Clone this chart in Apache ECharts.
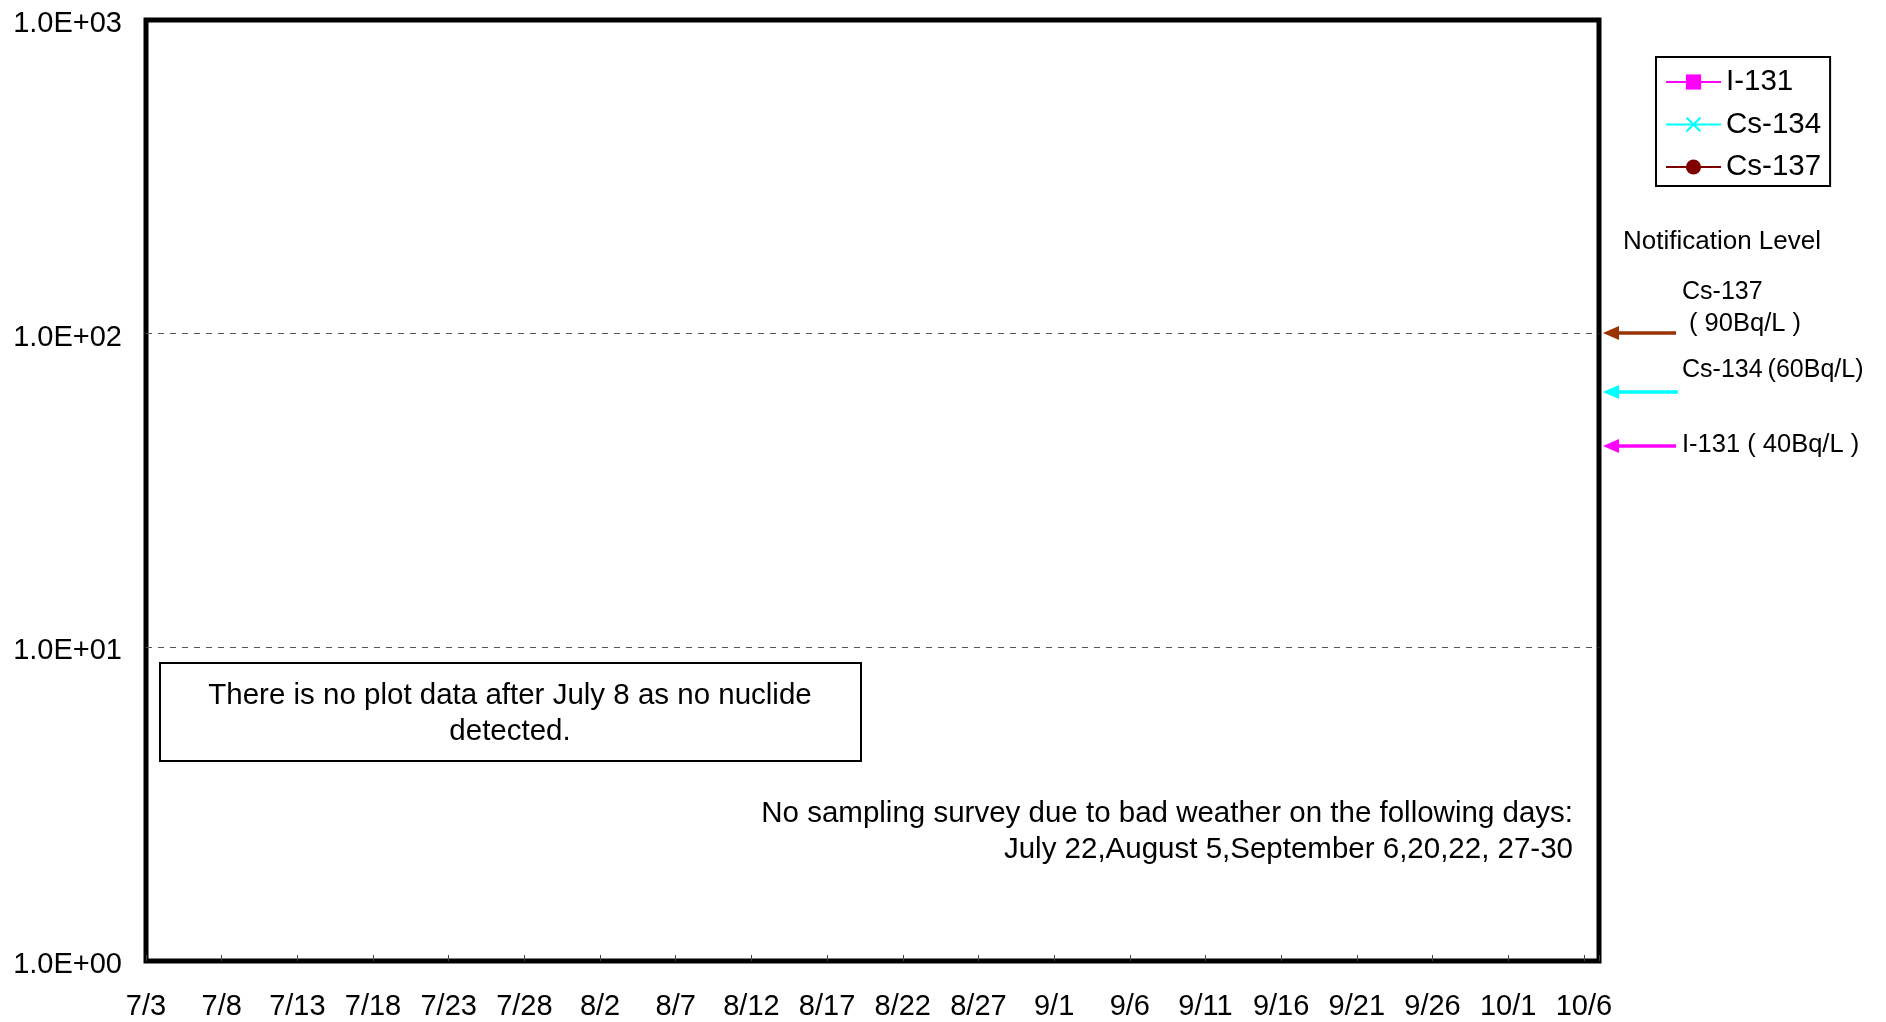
<!DOCTYPE html>
<html><head><meta charset="utf-8">
<script src="https://cdn.jsdelivr.net/npm/echarts@6/dist/echarts.min.js"></script>
<style>html,body{margin:0;padding:0;background:#fff}#c{width:1886px;height:1022px}</style>
</head><body><div id="c"></div>
<script>
const FONT = "'Liberation Sans', Arial, 'Noto Sans CJK JP', sans-serif";

// Series (no plotted data: no nuclide detected in this period)
const seriesNames = ['I-131', 'Cs-134', 'Cs-137'];
const seriesColors = ['#FF00FF', '#00FFFF', '#800000'];
const seriesSymbols = ['rect', 'path://M0,1L1,0L5,4L9,0L10,1L6,5L10,9L9,10L5,6L1,10L0,9L4,5Z', 'circle'];
const i131Values = [];
const cs134Values = [];
const cs137Values = [];

// X axis: days counted from 7/3, ticks every 5 days
const xTickLabels = ['7/3','7/8','7/13','7/18','7/23','7/28','8/2','8/7','8/12','8/17','8/22','8/27','9/1','9/6','9/11','9/16','9/21','9/26','10/1','10/6'];
const xDayMin = 0;
const xDayMax = 96;
const xDayStep = 5;

// Y axis (log)
const yTickLabels = ['1.0E+00', '1.0E+01', '1.0E+02', '1.0E+03'];
const yMin = 1;
const yMax = 1000;

// Notification levels (text annotations)
const notifTitle = 'Notification Level';
const notifLabels = ['Cs-137', '( 90Bq/L )', 'Cs-134\u2009(60Bq/L)', 'I-131 ( 40Bq/L )'];
const arrowColors = ['#993300', '#00FFFF', '#FF00FF'];

const boxText = 'There is no plot data after July 8 as no nuclide\ndetected.';
const weatherText = 'No sampling survey due to bad weather on the following days:\nJuly 22,August 5,September 6,20,22, 27-30';

const chart = echarts.init(document.getElementById('c'), null, {renderer: 'canvas'});

const seriesData = [i131Values, cs134Values, cs137Values];

function arrow(color, y, tail) {
  return [
    {type: 'line', shape: {x1: 1616, y1: y, x2: tail, y2: y}, style: {stroke: color, lineWidth: 3.5}, z: 10},
    {type: 'polygon', shape: {points: [[1603, y], [1619, y - 7], [1619, y + 7]]}, style: {fill: color}, z: 10}
  ];
}

function label(text, x, y, size) {
  return {type: 'text', x: x, y: y, style: {text: text, fontSize: size, fontFamily: FONT, fill: '#000', align: 'left', verticalAlign: 'middle'}};
}

const option = {
  animation: false,
  backgroundColor: '#fff',
  grid: {left: 146, right: 287, top: 20, bottom: 61, show: true, borderColor: '#000', borderWidth: 5, backgroundColor: 'transparent'},
  legend: {
    orient: 'vertical', left: 1656, top: 57,
    padding: [10, 9, 4, 9],
    borderColor: '#000', borderWidth: 2,
    itemWidth: 55, itemHeight: 19, itemGap: 12.5,
    textStyle: {fontSize: 29.5, lineHeight: 30, color: '#000', fontFamily: FONT},
    data: seriesNames
  },
  xAxis: {
    type: 'value', min: xDayMin, max: xDayMax, interval: xDayStep,
    axisLine: {show: false},
    axisTick: {show: true, inside: true, length: 6, lineStyle: {color: '#444', width: 1}},
    splitLine: {show: false},
    axisLabel: {
      margin: 32, fontSize: 29, color: '#000', fontFamily: FONT,
      showMinLabel: true, showMaxLabel: true,
      formatter: v => (v % xDayStep === 0 ? (xTickLabels[v / xDayStep] || '') : '')
    }
  },
  yAxis: {
    type: 'log', logBase: 10, min: yMin, max: yMax,
    axisLine: {show: false},
    axisTick: {show: false},
    splitLine: {show: true, showMinLine: false, showMaxLine: false, lineStyle: {color: '#555', width: 1, type: [6, 6]}},
    axisLabel: {
      margin: 24, fontSize: 29, color: '#000', fontFamily: FONT,
      verticalAlign: 'top', lineHeight: 8,
      formatter: v => yTickLabels[Math.round(Math.log10(v))]
    }
  },
  series: seriesNames.map((n, i) => ({
    name: n, type: 'line', data: seriesData[i],
    symbol: seriesSymbols[i], symbolSize: 15,
    lineStyle: {color: seriesColors[i], width: 2},
    itemStyle: {color: seriesColors[i]}
  })),
  graphic: [
    {type: 'rect', shape: {x: 160, y: 663, width: 701, height: 98}, style: {fill: '#fff', stroke: '#000', lineWidth: 2}, z: 5},
    {type: 'text', x: 510, y: 713.5, z: 6, style: {text: boxText, fontSize: 29.5, fontFamily: FONT, fill: '#000', align: 'center', verticalAlign: 'middle', lineHeight: 36}},
    {type: 'text', x: 1573, y: 831.5, z: 6, style: {text: weatherText, fontSize: 29.5, fontFamily: FONT, fill: '#000', align: 'right', verticalAlign: 'middle', lineHeight: 36}},
    label(notifTitle, 1623, 242, 26),
    label(notifLabels[0], 1682, 292, 25),
    label(notifLabels[1], 1689, 324, 25.5),
    label(notifLabels[2], 1682, 370, 25),
    label(notifLabels[3], 1682, 445, 25.5),
    ...arrow(arrowColors[0], 333, 1676),
    ...arrow(arrowColors[1], 392, 1678),
    ...arrow(arrowColors[2], 446, 1676)
  ]
};
chart.setOption(option);
</script></body></html>
